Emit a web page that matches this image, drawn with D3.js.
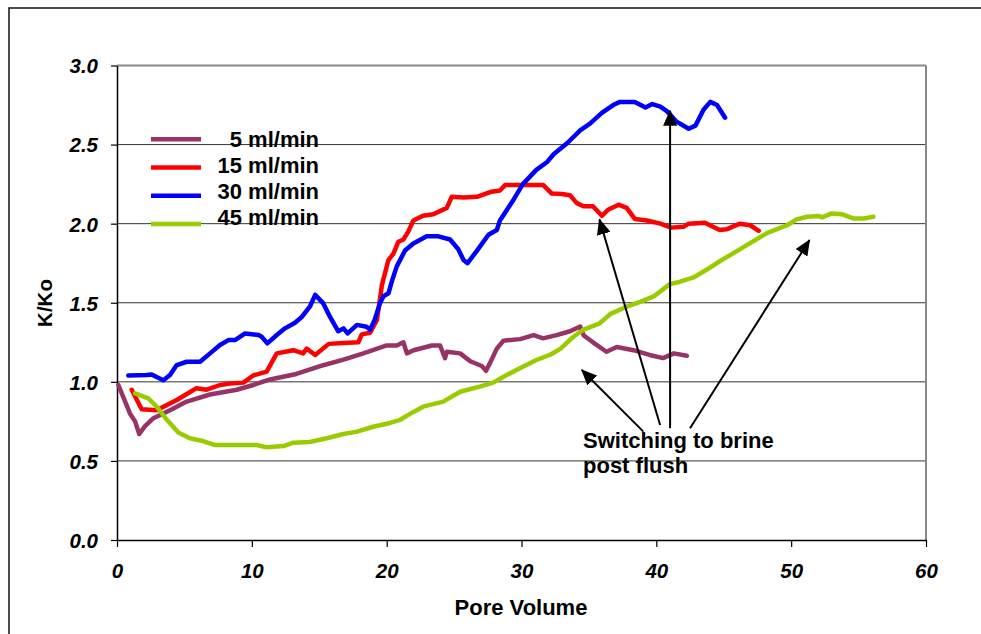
<!DOCTYPE html>
<html>
<head>
<meta charset="utf-8">
<script src="https://cdn.jsdelivr.net/npm/d3@7"></script>
<style>
  html, body { margin: 0; padding: 0; background: #fff; }
  svg { display: block; font-family: "Liberation Sans", Arial, sans-serif; }
</style>
</head>
<body>
<svg id="chart" width="981" height="634"></svg>
<script>
// K/Ko vs pore volume
const rate5 = [[0.1,0.98],[0.96,0.80],[1.34,0.75],[1.65,0.67],[2.08,0.72],[2.7,0.77],[3.93,0.82],[5.17,0.875],[6.9,0.92],[8.88,0.95],[10.1,0.98],[11.35,1.015],[13.3,1.05],[15.3,1.105],[16.8,1.14],[18.27,1.18],[20.0,1.23],[20.75,1.23],[21.24,1.25],[21.5,1.18],[22.0,1.2],[23.35,1.23],[23.96,1.23],[24.33,1.15],[24.46,1.19],[25.45,1.18],[26.2,1.13],[27.05,1.1],[27.37,1.07],[27.67,1.12],[28.17,1.21],[28.66,1.26],[29.9,1.27],[30.9,1.295],[31.6,1.275],[32.6,1.295],[33.6,1.32],[34.35,1.35],[34.6,1.295],[35.3,1.25],[36.3,1.19],[37.07,1.22],[38.3,1.2],[39.5,1.17],[40.5,1.15],[41.3,1.18],[42.26,1.165]];
const rate15 = [[1.09,0.95],[1.83,0.826],[2.94,0.82],[4.43,0.885],[5.9,0.96],[6.65,0.95],[7.64,0.98],[8.38,0.99],[9.37,0.995],[10.1,1.04],[11.1,1.065],[11.85,1.18],[13.08,1.2],[13.8,1.18],[14.07,1.21],[14.7,1.17],[15.7,1.24],[16.8,1.245],[17.9,1.25],[18.15,1.3],[18.77,1.31],[19.27,1.39],[19.5,1.52],[19.64,1.61],[20.13,1.77],[20.5,1.81],[20.87,1.886],[21.24,1.9],[21.6,1.95],[21.98,2.02],[22.7,2.05],[23.46,2.06],[24.46,2.1],[24.83,2.17],[25.7,2.165],[26.7,2.17],[27.67,2.2],[28.4,2.21],[28.8,2.245],[31.6,2.245],[32.25,2.19],[33.0,2.187],[33.6,2.18],[34.1,2.13],[34.6,2.11],[35.3,2.11],[35.96,2.05],[36.45,2.09],[37.2,2.12],[37.8,2.1],[38.4,2.03],[39.3,2.02],[40.3,2.0],[41.1,1.975],[42.0,1.98],[42.4,2.0],[43.6,2.006],[44.2,1.98],[44.7,1.96],[45.2,1.964],[46.2,2.0],[46.96,1.99],[47.6,1.955]];
const rate30 = [[0.84,1.04],[2.2,1.043],[2.57,1.047],[2.94,1.03],[3.44,1.01],[3.93,1.043],[4.43,1.106],[5.17,1.127],[6.16,1.127],[6.9,1.18],[7.64,1.233],[8.26,1.264],[8.75,1.264],[9.5,1.306],[10.5,1.296],[10.73,1.285],[11.15,1.243],[11.85,1.296],[12.46,1.338],[13.2,1.374],[13.7,1.41],[14.3,1.475],[14.7,1.55],[15.3,1.496],[15.8,1.41],[16.4,1.32],[16.8,1.338],[17.1,1.306],[17.8,1.36],[18.5,1.348],[18.77,1.33],[19.1,1.39],[19.5,1.496],[19.75,1.54],[20.13,1.56],[20.4,1.64],[20.75,1.73],[21.36,1.83],[21.98,1.875],[22.97,1.92],[23.84,1.92],[24.7,1.9],[25.3,1.84],[25.7,1.77],[26.0,1.75],[26.7,1.83],[27.55,1.93],[28.17,1.96],[28.4,2.02],[29.4,2.15],[30.1,2.25],[31.1,2.34],[31.9,2.39],[32.4,2.44],[33.4,2.51],[34.35,2.59],[35.1,2.634],[35.96,2.7],[36.8,2.75],[37.3,2.77],[38.4,2.77],[39.2,2.735],[39.7,2.756],[40.3,2.74],[40.8,2.71],[41.5,2.645],[42.4,2.6],[42.9,2.62],[43.5,2.72],[44.0,2.77],[44.5,2.75],[45.1,2.67]];
const rate45 = [[1.34,0.927],[2.32,0.896],[2.94,0.843],[3.7,0.76],[4.55,0.68],[5.4,0.643],[6.28,0.628],[7.27,0.6],[10.36,0.6],[11.1,0.586],[12.34,0.594],[13.08,0.615],[14.3,0.62],[15.56,0.643],[16.8,0.67],[17.8,0.685],[19.0,0.716],[20.25,0.74],[21.0,0.76],[21.7,0.796],[22.7,0.843],[24.2,0.875],[25.45,0.937],[26.9,0.97],[27.9,0.995],[28.9,1.043],[30.1,1.095],[31.1,1.138],[32.1,1.17],[32.9,1.21],[33.85,1.285],[34.6,1.33],[35.8,1.37],[36.6,1.43],[37.8,1.475],[38.8,1.506],[39.8,1.54],[41.0,1.618],[41.77,1.633],[42.75,1.66],[43.75,1.71],[44.73,1.764],[45.85,1.82],[47.2,1.89],[48.2,1.94],[48.9,1.964],[49.7,1.99],[50.4,2.027],[51.2,2.044],[52.07,2.048],[52.3,2.04],[53.0,2.065],[53.75,2.06],[54.6,2.033],[55.4,2.033],[56.1,2.044]];

const seriesNames = ['5 ml/min', '15 ml/min', '30 ml/min', '45 ml/min'];
const seriesColors = ['#993366', '#ff0000', '#0000ff', '#99cc00'];
const seriesData = [rate5, rate15, rate30, rate45];

const xTicks = [0, 10, 20, 30, 40, 50, 60];
const yTicks = [0, 0.5, 1.0, 1.5, 2.0, 2.5, 3.0];

// annotation arrows: tail -> tip, data units
const arrowTails = [[39.04,0.685],[40.28,0.727],[41.02,0.706],[42.5,0.706]];
const arrowTips  = [[34.47,1.075],[35.78,2.027],[41.02,2.714],[51.36,1.896]];
const noteLines = ['Switching to brine', 'post flush'];

const svg = d3.select('#chart');

// outer frame (runs off the right and bottom edge)
svg.append('rect')
    .attr('x', 9).attr('y', 8)
    .attr('width', 1100).attr('height', 1000)
    .attr('fill', 'none')
    .attr('stroke', '#111')
    .attr('stroke-width', 1.5);

const x = d3.scaleLinear().domain([0, 60]).range([117, 926]);
const y = d3.scaleLinear().domain([0, 3]).range([540, 65.5]);

// grid lines
svg.append('g')
    .selectAll('line')
    .data(yTicks.filter(d => d > 0 && d < 3))
    .join('line')
    .attr('x1', x(0)).attr('x2', x(60))
    .attr('y1', d => y(d)).attr('y2', d => y(d))
    .attr('stroke', '#333')
    .attr('stroke-width', 1);

// top and right border of plot area
svg.append('line')
    .attr('x1', x(0)).attr('x2', x(60))
    .attr('y1', y(3)).attr('y2', y(3))
    .attr('stroke', '#888').attr('stroke-width', 2);
svg.append('line')
    .attr('x1', x(60)).attr('x2', x(60))
    .attr('y1', y(3)).attr('y2', y(0))
    .attr('stroke', '#888').attr('stroke-width', 2);

// axes
const yAxis = svg.append('g')
    .attr('transform', `translate(${x(0)},0)`)
    .call(d3.axisLeft(y).tickValues(yTicks).tickFormat(d3.format('.1f')).tickSize(6).tickSizeOuter(0));
const xAxis = svg.append('g')
    .attr('transform', `translate(0,${y(0)})`)
    .call(d3.axisBottom(x).tickValues(xTicks).tickFormat(d3.format('d')).tickSize(7).tickSizeOuter(0));

[xAxis, yAxis].forEach(ax => {
    ax.select('.domain').attr('stroke', '#000').attr('stroke-width', 1.5);
    ax.selectAll('.tick line').attr('stroke', '#000').attr('stroke-width', 1.2);
    ax.selectAll('.tick text')
        .attr('fill', '#000')
        .style('font-size', '20.5px')
        .style('font-weight', 'bold')
        .style('font-style', 'italic')
        .style('font-family', '"Liberation Sans", Arial, sans-serif');
});
yAxis.selectAll('.tick text').attr('x', -19).attr('dy', '0.36em');
xAxis.selectAll('.tick text').attr('y', 38).attr('dy', 0);

// axis titles
svg.append('text')
    .attr('x', 521).attr('y', 615)
    .attr('text-anchor', 'middle')
    .style('font-size', '22px').style('font-weight', 'bold')
    .text('Pore Volume');
svg.append('text')
    .attr('transform', 'translate(52,303) rotate(-90)')
    .attr('text-anchor', 'middle')
    .style('font-size', '20.5px').style('font-weight', 'bold')
    .text('K/Ko');

// series
const line = d3.line()
    .x(d => x(d[0]))
    .y(d => y(d[1]));

svg.append('g')
    .selectAll('path')
    .data(seriesData)
    .join('path')
    .attr('d', line)
    .attr('fill', 'none')
    .attr('stroke', (d, i) => seriesColors[i])
    .attr('stroke-width', 4.5)
    .attr('stroke-linejoin', 'round')
    .attr('stroke-linecap', 'round');

// legend
const legend = svg.append('g');
seriesNames.forEach((name, i) => {
    legend.append('line')
        .attr('x1', 151).attr('x2', 201)
        .attr('y1', 139.3 + i * 28.2).attr('y2', 139.3 + i * 28.2)
        .attr('stroke', seriesColors[i])
        .attr('stroke-width', 4.5);
    legend.append('text')
        .attr('x', 319).attr('y', 147 + i * 26)
        .attr('text-anchor', 'end')
        .style('font-size', '22px').style('font-weight', 'bold')
        .text(name);
});

// arrows
svg.append('defs').append('marker')
    .attr('id', 'arrowhead')
    .attr('markerUnits', 'userSpaceOnUse')
    .attr('markerWidth', 16).attr('markerHeight', 14)
    .attr('refX', 15).attr('refY', 7)
    .attr('orient', 'auto')
    .append('path')
    .attr('d', 'M0,0 L16,7 L0,14 Z')
    .attr('fill', '#000');

svg.append('g')
    .selectAll('line')
    .data(arrowTails)
    .join('line')
    .attr('x1', d => x(d[0])).attr('y1', d => y(d[1]))
    .attr('x2', (d, i) => x(arrowTips[i][0])).attr('y2', (d, i) => y(arrowTips[i][1]))
    .attr('stroke', '#000')
    .attr('stroke-width', 2)
    .attr('marker-end', 'url(#arrowhead)');

svg.append('g')
    .selectAll('text')
    .data(noteLines)
    .join('text')
    .attr('x', 583)
    .attr('y', (d, i) => 448 + i * 25)
    .style('font-size', '22px').style('font-weight', 'bold')
    .text(d => d);
</script>
</body>
</html>
